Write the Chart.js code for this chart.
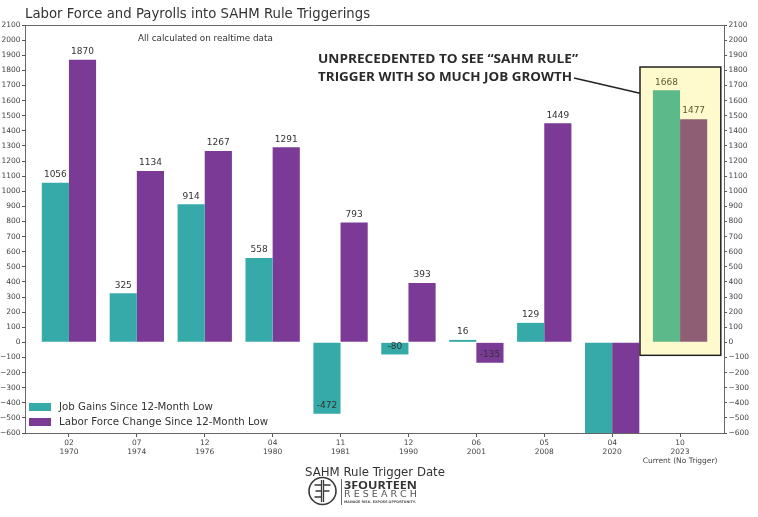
<!DOCTYPE html>
<html>
<head>
<meta charset="utf-8">
<script src="https://cdn.jsdelivr.net/npm/chart.js@4/dist/chart.umd.min.js"></script>
<style>
  html, body { margin: 0; padding: 0; background: #ffffff; }
  #wrap { width: 758px; height: 517px; }
</style>
</head>
<body>
<div id="wrap"><canvas id="c" width="758" height="517"></canvas></div>
<script>
// ---- data ----
const xTickLabels = [
  ['02', '1970'], ['07', '1974'], ['12', '1976'], ['04', '1980'], ['11', '1981'],
  ['12', '1990'], ['06', '2001'], ['05', '2008'], ['04', '2020'], ['10', '2023', 'Current (No Trigger)']
];
const jobGains   = [1056, 325, 914, 558, -472, -80, 16, 129, -20500, 1668];
const laborForce = [1870, 1134, 1267, 1291, 793, 393, -135, 1449, -8100, 1477];
const yMin = -600, yMax = 2100, yStep = 100;
const seriesNames = ['Job Gains Since 12-Month Low', 'Labor Force Change Since 12-Month Low'];
const highlightIndex = 9;

const TEAL = '#35aaa9', PURPLE = '#7a3a96';
const TEAL_HI = '#5bb98a', PURPLE_HI = '#8e5e75';

function colorsFor(base, hi) {
  return jobGains.map((_, i) => i === highlightIndex ? hi : base);
}

// horizontally squeezes/stretches text to a target width at fixed height
function fitText(ctx, text, font, x, y, targetW, color, align) {
  ctx.save();
  ctx.font = font;
  ctx.fillStyle = color;
  ctx.textBaseline = 'middle';
  ctx.textAlign = 'left';
  const w = ctx.measureText(text).width;
  const s = targetW / w;
  let x0 = x;
  if (align === 'center') x0 = x - targetW / 2;
  ctx.translate(x0, y);
  ctx.scale(s, 1);
  ctx.fillText(text, 0, 0);
  ctx.restore();
}

// picks a font size so that the text has the target width (uniform)
function sizeText(ctx, text, family, weight, x, y, targetW, color, align) {
  ctx.save();
  ctx.font = weight + ' 20px ' + family;
  const w = ctx.measureText(text).width;
  const size = 20 * targetW / w;
  ctx.font = weight + ' ' + size.toFixed(2) + 'px ' + family;
  ctx.fillStyle = color;
  ctx.textBaseline = 'middle';
  ctx.textAlign = align || 'left';
  ctx.fillText(text, x, y);
  ctx.restore();
}

const fmtTick = v => v < 0 ? '\u2212' + Math.abs(v) : String(v);

const decorPlugin = {
  id: 'decor',
  beforeDatasetsDraw(chart) {
    const { ctx, scales: { x, y } } = chart;
    const l = x.getPixelForValue(8.41), r = x.getPixelForValue(9.6);
    const t = y.getPixelForValue(1822), b = y.getPixelForValue(-86);
    ctx.save();
    ctx.fillStyle = '#fffacd';
    ctx.fillRect(l, t, r - l, b - t);
    ctx.restore();
  },
  afterDatasetsDraw(chart) {
    const { ctx, chartArea: ca, scales: { x, y } } = chart;
    // top spine
    ctx.save();
    ctx.strokeStyle = '#666';
    ctx.lineWidth = 1;
    ctx.beginPath();
    ctx.moveTo(ca.left, ca.top + 0.5);
    ctx.lineTo(ca.right, ca.top + 0.5);
    ctx.stroke();
    ctx.restore();

    // value labels
    ctx.save();
    ctx.font = '9px "DejaVu Sans"';
    ctx.textAlign = 'center';
    ctx.textBaseline = 'middle';
    chart.data.datasets.forEach((ds, di) => {
      const meta = chart.getDatasetMeta(di);
      meta.data.forEach((el, i) => {
        const v = ds.data[i].y;
        if (v < yMin || v > yMax) return;
        ctx.fillStyle = i === highlightIndex ? '#5e592c' : '#333333';
        ctx.fillText(String(v), el.x, el.y - 8);
      });
    });
    ctx.restore();

    // highlight box border + connector
    const l = x.getPixelForValue(8.41), r = x.getPixelForValue(9.6);
    const t = y.getPixelForValue(1822), b = y.getPixelForValue(-86);
    ctx.save();
    ctx.strokeStyle = '#222';
    ctx.lineWidth = 1.5;
    ctx.strokeRect(l, t, r - l, b - t);
    ctx.beginPath();
    ctx.moveTo(574, 78);
    ctx.lineTo(l, y.getPixelForValue(1648));
    ctx.stroke();
    ctx.restore();
  },
  afterDraw(chart) {
    const { ctx } = chart;
    sizeText(ctx, 'Labor Force and Payrolls into SAHM Rule Triggerings', '"DejaVu Sans"', 'normal', 25, 15, 345, '#333333');
    sizeText(ctx, 'All calculated on realtime data', '"DejaVu Sans"', 'normal', 138, 39, 135, '#333333');
    fitText(ctx, 'UNPRECEDENTED TO SEE \u201CSAHM RULE\u201D', 'bold 13px "Open Sans"', 318, 59, 260, '#2a2a2a');
    fitText(ctx, 'TRIGGER WITH SO MUCH JOB GROWTH', 'bold 13px "Open Sans"', 318, 77.5, 254, '#2a2a2a');

    // legend
    const legendItems = [
      { c: TEAL, t: seriesNames[0], y: 407, w: 154 },
      { c: PURPLE, t: seriesNames[1], y: 422, w: 209 }
    ];
    legendItems.forEach(it => {
      ctx.save();
      ctx.fillStyle = it.c;
      ctx.fillRect(29, it.y - 4, 22, 8);
      ctx.restore();
      sizeText(ctx, it.t, '"DejaVu Sans"', 'normal', 59, it.y, it.w, '#333333');
    });

    // axis title
    sizeText(ctx, 'SAHM Rule Trigger Date', '"DejaVu Sans"', 'normal', 375, 473, 140, '#333333', 'center');

    // logo
    ctx.save();
    ctx.strokeStyle = '#3a3a3a';
    ctx.lineWidth = 1.6;
    const cx = 322.5, cy = 491, rr = 13.5;
    ctx.beginPath();
    ctx.arc(cx, cy, rr, 0, Math.PI * 2);
    ctx.stroke();
    ctx.lineWidth = 1.3;
    ctx.beginPath();
    ctx.moveTo(cx - 1, cy - 11); ctx.lineTo(cx - 1, cy + 11);
    ctx.moveTo(cx + 1, cy - 11); ctx.lineTo(cx + 1, cy + 11);
    ctx.moveTo(cx - 8, cy - 6); ctx.lineTo(cx - 1, cy - 6);
    ctx.moveTo(cx - 7, cy); ctx.lineTo(cx - 1, cy);
    ctx.moveTo(cx - 8, cy + 6); ctx.lineTo(cx - 1, cy + 6);
    ctx.moveTo(cx + 1, cy - 6); ctx.lineTo(cx + 8, cy - 6);
    ctx.moveTo(cx + 1, cy); ctx.lineTo(cx + 7, cy);
    ctx.stroke();
    ctx.lineWidth = 1;
    ctx.strokeStyle = '#666';
    ctx.beginPath();
    ctx.moveTo(341.5, 479); ctx.lineTo(341.5, 505);
    ctx.stroke();
    ctx.restore();
    fitText(ctx, '3FOURTEEN', 'bold 11px "Open Sans"', 344, 485.5, 73, '#333333');
    fitText(ctx, 'R E S E A R C H', '8.5px "DejaVu Sans"', 344, 494.5, 73, '#555555');
    fitText(ctx, 'MANAGE RISK. EXPOSE OPPORTUNITY.', 'bold 3.5px "DejaVu Sans"', 344, 502, 72, '#555555');
  }
};

const ctx = document.getElementById('c').getContext('2d');
new Chart(ctx, {
  type: 'bar',
  data: {
    datasets: [
      {
        label: seriesNames[0],
        data: jobGains.map((v, i) => ({ x: i, y: v })),
        backgroundColor: colorsFor(TEAL, TEAL_HI),
        borderWidth: 0,
        clip: 0
      },
      {
        label: seriesNames[1],
        data: laborForce.map((v, i) => ({ x: i, y: v })),
        backgroundColor: colorsFor(PURPLE, PURPLE_HI),
        borderWidth: 0,
        clip: 0
      }
    ]
  },
  options: {
    responsive: false,
    animation: false,
    events: [],
    layout: { padding: { top: 25, left: 0, right: 0, bottom: 0 } },
    datasets: { bar: { categoryPercentage: 0.8, barPercentage: 1.0 } },
    plugins: { legend: { display: false }, tooltip: { enabled: false }, title: { display: false } },
    scales: {
      x: {
        type: 'linear',
        min: -0.647,
        max: 9.647,
        offset: false,
        grid: { display: true, drawOnChartArea: false, drawTicks: true, tickLength: 4, tickColor: '#555', offset: false },
        border: { display: true, color: '#666', width: 1 },
        afterBuildTicks(scale) { scale.ticks = xTickLabels.map((_, i) => ({ value: i })); },
        afterFit(scale) { scale.height = 84; },
        ticks: {
          autoSkip: false,
          maxRotation: 0,
          padding: 2,
          color: '#444',
          font: { family: '"DejaVu Sans"', size: 7.5, lineHeight: 1.2 },
          callback: (v) => xTickLabels[v]
        }
      },
      y: {
        type: 'linear',
        position: 'left',
        min: yMin, max: yMax,
        grid: { display: true, drawOnChartArea: false, drawTicks: true, tickLength: 3, tickColor: '#555' },
        border: { display: true, color: '#666', width: 1 },
        afterFit(scale) { scale.width = 25; },
        ticks: { stepSize: yStep, autoSkip: false, padding: 1.5, color: '#444', font: { family: '"DejaVu Sans"', size: 7.5 }, callback: fmtTick }
      },
      y2: {
        type: 'linear',
        position: 'right',
        min: yMin, max: yMax,
        grid: { display: true, drawOnChartArea: false, drawTicks: true, tickLength: 3, tickColor: '#555' },
        border: { display: true, color: '#666', width: 1 },
        afterFit(scale) { scale.width = 34; },
        ticks: { stepSize: yStep, autoSkip: false, padding: 1.5, color: '#444', font: { family: '"DejaVu Sans"', size: 7.5 }, callback: fmtTick }
      }
    }
  },
  plugins: [decorPlugin]
});
</script>
</body>
</html>
